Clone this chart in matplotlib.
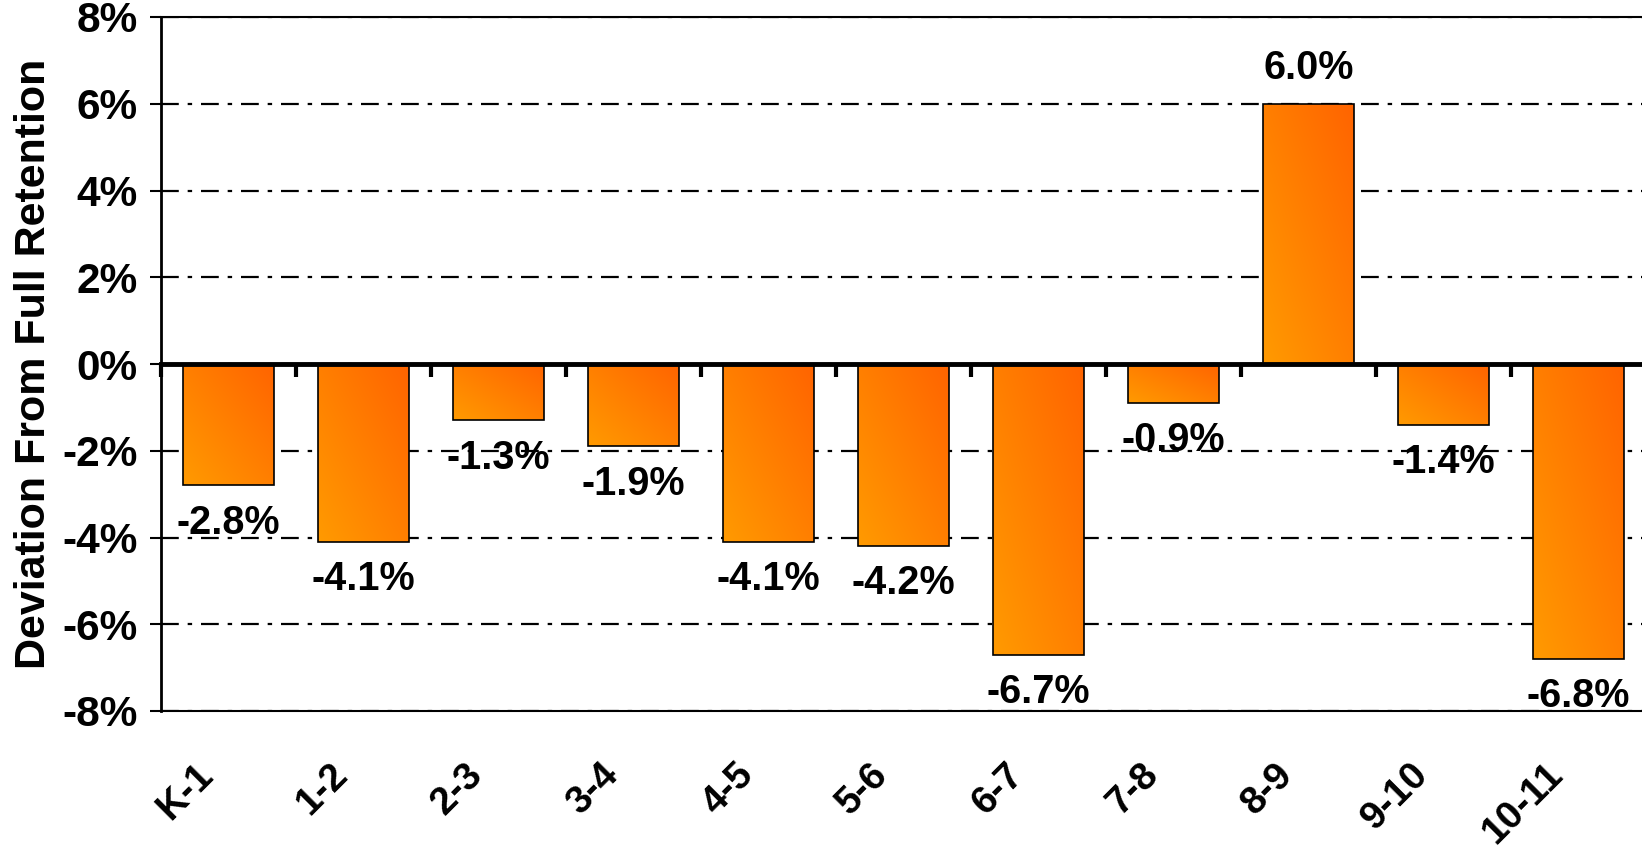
import numpy as np
import matplotlib.pyplot as plt
from matplotlib.colors import to_rgb
from matplotlib.ticker import FuncFormatter
from matplotlib.transforms import ScaledTranslation

plt.rcParams['font.family'] = ['Liberation Sans', 'DejaVu Sans']
plt.rcParams['font.weight'] = 'bold'

# grade transitions and deviation from full retention (%)
grades = ['K-1', '1-2', '2-3', '3-4', '4-5', '5-6', '6-7', '7-8', '8-9', '9-10', '10-11']
deviation = [-2.8, -4.1, -1.3, -1.9, -4.1, -4.2, -6.7, -0.9, 6.0, -1.4, -6.8]
yticks = [-8, -6, -4, -2, 0, 2, 4, 6, 8]

light = np.array(to_rgb('#ff9a00'))
dark = np.array(to_rgb('#ff6400'))

fig = plt.figure(figsize=(16.42, 8.51), dpi=100)
ax = fig.add_axes([161 / 1642, 1 - 711 / 851, 1485 / 1642, 694 / 851])

x = np.arange(len(grades))
bars = ax.bar(x, deviation, width=0.67, facecolor='none', edgecolor='black',
              linewidth=1.2, zorder=3)

# diagonal gradient inside each bar: light lower-left -> dark upper-right
u = np.linspace(0, 1, 60)
U, W = np.meshgrid(u, u)
t = (U + W) / 2
grad = light[None, None, :] * (1 - t[..., None]) + dark[None, None, :] * t[..., None]
for b in bars:
    x0, y0 = b.get_x(), b.get_y()
    h = b.get_height()
    im = ax.imshow(grad, extent=[x0, x0 + b.get_width(), min(y0, y0 + h), max(y0, y0 + h)],
                   origin='lower', aspect='auto', zorder=2, interpolation='bilinear')
    im.set_clip_path(b)

# value labels
for xi, v in zip(x, deviation):
    off = 0.82 if v > 0 else -0.86
    ax.text(xi, v + off, f'{v:.1f}%', ha='center', va='center', fontsize=28.5,
            fontweight='bold', zorder=4)

ax.set_xlim(-0.5, len(grades) - 0.5)
ax.set_ylim(-8, 8)
ax.set_yticks(yticks)
ax.yaxis.set_major_formatter(FuncFormatter(lambda v, p: f'{int(v)}%'))
ax.tick_params(axis='y', labelsize=30.5, length=8, width=1.5, pad=9, direction='out')
for lab in ax.get_yticklabels():
    lab.set_fontweight('bold')

ax.grid(axis='y', color='black', linewidth=1.6, linestyle=(0, (8, 4, 2, 4)))
ax.set_axisbelow(True)

# zero axis with category separator ticks
ax.spines['bottom'].set_position(('data', 0))
ax.spines['bottom'].set_linewidth(3.5)
ax.spines['bottom'].set_zorder(5)
ax.set_xticks(np.arange(len(grades) + 1) - 0.5)
ax.tick_params(axis='x', length=9, width=3, direction='out', labelbottom=False)
ax.spines['left'].set_linewidth(2)
ax.spines['top'].set_linewidth(1.5)
ax.spines['right'].set_linewidth(1.5)

# category labels along the bottom edge
sec = ax.secondary_xaxis('bottom')
sec.spines['bottom'].set_linewidth(1.5)
sec.set_xticks(x, grades)
sec.tick_params(axis='x', length=0, pad=42, labelsize=28)
offset = ScaledTranslation(-15 / 72, 0, fig.dpi_scale_trans)
for lab in sec.get_xticklabels():
    lab.set_rotation(45)
    lab.set_ha('right')
    lab.set_va('center')
    lab.set_rotation_mode('anchor')
    lab.set_fontweight('bold')
    lab.set_transform(lab.get_transform() + offset)

ax.set_ylabel('Deviation From Full Retention', fontsize=31, fontweight='bold', labelpad=6)

fig.savefig('out.png', dpi=100)
